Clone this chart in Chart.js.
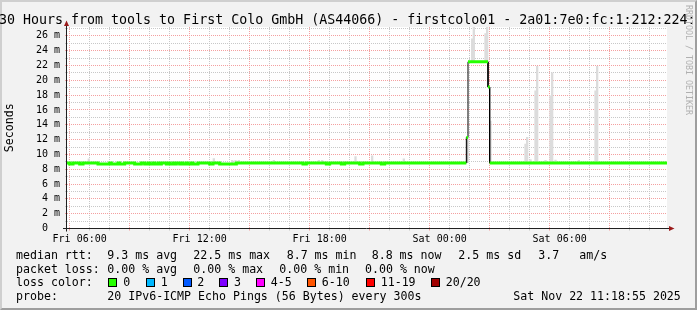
<!DOCTYPE html>
<html>
<head>
<meta charset="utf-8">
<title>firstcolo01 smokeping</title>
<script src="https://cdn.jsdelivr.net/npm/chart.js@4.4.1/dist/chart.umd.min.js"></script>
<style>
  html, body { margin: 0; padding: 0; background: #f2f2f2; }
  #graph { position: relative; width: 697px; height: 310px; overflow: hidden; background: #f2f2f2;
           font-family: "DejaVu Sans Mono", monospace; color: #000; }
  #frame { position: absolute; left: 0; top: 0; width: 697px; height: 310px; box-sizing: border-box;
           border: 2px solid; border-color: #cfcfcf #9e9e9e #9e9e9e #cfcfcf; }
  #chart { position: absolute; left: 0; top: 0; }
  #title { position: absolute; left: -1px; top: 11.7px; font-size: 13.3px; white-space: pre; }
  #credit { position: absolute; left: 684px; top: 5px; font-size: 8.3px; line-height: 9px;
            writing-mode: vertical-rl; color: #b0b0b0; white-space: pre; }
  .txt { position: absolute; white-space: pre; font-size: 11.6px; line-height: normal; }
  .r1 { top: 247.7px; } .r2 { top: 261.5px; } .r3 { top: 275.2px; } .r4 { top: 288.9px; }
  .box { position: absolute; top: 278px; width: 7px; height: 7px; border: 1px solid #000; }
</style>
</head>
<body>
<div id="graph">
  <div id="frame"></div>
  <canvas id="chart" width="697" height="310"></canvas>
  <div id="title">30 Hours from tools to First Colo GmbH (AS44066) - firstcolo01 - 2a01:7e0:fc:1:212:224::1</div>
  <div id="credit">RRDTOOL / TOBI OETIKER</div>

  <span class="txt r1" style="left:16px">median rtt:</span>
  <span class="txt r1" style="left:107.3px">9.3 ms avg</span>
  <span class="txt r1" style="left:193.3px">22.5 ms max</span>
  <span class="txt r1" style="left:286.7px">8.7 ms min</span>
  <span class="txt r1" style="left:371.7px">8.8 ms now</span>
  <span class="txt r1" style="left:458.3px">2.5 ms sd</span>
  <span class="txt r1" style="left:538.3px">3.7</span>
  <span class="txt r1" style="left:579.3px">am/s</span>

  <span class="txt r2" style="left:16px">packet loss:</span>
  <span class="txt r2" style="left:107.3px">0.00 % avg</span>
  <span class="txt r2" style="left:193.3px">0.00 % max</span>
  <span class="txt r2" style="left:279.3px">0.00 % min</span>
  <span class="txt r2" style="left:365px">0.00 % now</span>

  <span class="txt r3" style="left:16px">loss color:</span>
  <span class="box" style="left:108px;background:#26ff00"></span><span class="txt r3" style="left:123.3px">0</span>
  <span class="box" style="left:146px;background:#00b8ff"></span><span class="txt r3" style="left:160.7px">1</span>
  <span class="box" style="left:183px;background:#0059ff"></span><span class="txt r3" style="left:197.3px">2</span>
  <span class="box" style="left:219px;background:#7e00ff"></span><span class="txt r3" style="left:234px">3</span>
  <span class="box" style="left:256px;background:#ff00ff"></span><span class="txt r3" style="left:270.7px">4-5</span>
  <span class="box" style="left:307px;background:#ff5500"></span><span class="txt r3" style="left:321.7px">6-10</span>
  <span class="box" style="left:366px;background:#ff0000"></span><span class="txt r3" style="left:380.7px">11-19</span>
  <span class="box" style="left:431px;background:#a10000"></span><span class="txt r3" style="left:445.7px">20/20</span>

  <span class="txt r4" style="left:16px">probe:</span>
  <span class="txt r4" style="left:107.3px">20 IPv6-ICMP Echo Pings (56 Bytes) every 300s</span>
  <span class="txt r4" style="left:513.3px">Sat Nov 22 11:18:55 2025</span>
</div>

<script>
// time axis is in minutes since Fri 00:00
const graphStart = 322;
const graphEnd = 2122;

// median rtt (ms): each value holds from its time until the next one
const medianTimes = [322, 330, 340, 360, 370, 415, 450, 455, 475, 480, 495, 525, 545, 555, 565,
    570, 580, 585, 595, 600, 605, 620, 625, 630, 640, 645, 650, 660, 665, 670, 680, 685, 695,
    700, 715, 750, 760, 780, 830, 1030, 1040, 1100, 1110, 1145, 1155, 1200, 1210, 1265, 1275,
    1520, 1525, 1585, 1590];
const medianValues = [8.85, 8.72, 8.85, 8.72, 8.85, 8.72, 8.85, 8.72, 8.85, 8.72, 8.85, 8.72, 8.85, 8.72, 8.85,
    8.72, 8.85, 8.72, 8.85, 8.72, 8.85, 8.72, 8.85, 8.72, 8.85, 8.72, 8.85, 8.72, 8.85, 8.72, 8.85, 8.72, 8.85,
    8.72, 8.85, 8.72, 8.85, 8.72, 8.85, 8.72, 8.85, 8.72, 8.85, 8.72, 8.85, 8.72, 8.85, 8.72, 8.85,
    12.3, 22.5, 19.1, 8.85];

// smoke (ping spread) per 5 minute step, light shade
const smokeTimes = [385, 760, 815, 825, 835, 940, 1075, 1085, 1185, 1235, 1330,
    1535, 1540, 1575, 1580, 1590, 1695, 1700, 1710, 1725, 1730, 1755, 1770, 1775, 1785, 1855, 1905, 1910];
const smokeLow = [8.9, 8.9, 8.9, 8.9, 8.9, 8.9, 8.9, 8.9, 8.9, 8.9, 8.9,
    22.6, 22.6, 22.6, 22.6, 8.9, 8.9, 8.9, 8.9, 8.9, 8.9, 8.9, 8.9, 8.9, 8.9, 8.9, 8.9, 8.9];
const smokeHigh = [9.4, 9.45, 9.2, 9.2, 9.2, 9.2, 9.2, 9.2, 9.7, 9.8, 9.4,
    25.6, 27.5, 26.3, 27.5, 14.5, 11.4, 12.3, 9.3, 18.6, 21.9, 9.2, 17.9, 21.0, 9.25, 9.2, 18.6, 21.9];

// dense smoke (darker shade)
const denseTimes = [1520];
const denseLow = [8.9];
const denseHigh = [12.3];

const tickMinutes = [360, 720, 1080, 1440, 1800];
const tickLabels = ["Fri 06:00", "Fri 12:00", "Fri 18:00", "Sat 00:00", "Sat 06:00"];

const yMax = 27.2;
const stepMinutes = 5;
const green = '#26ff00';
const majorGrid = '#f4a0a0';
const minorGrid = '#c8c8c8';

function stepPoints(times, values, end) {
    let pts = [];
    for (let i = 0; i < times.length; i++) {
        let next = (i + 1 < times.length) ? times[i + 1] : end;
        pts.push({x: times[i], y: values[i]});
        pts.push({x: next, y: values[i]});
    }
    return pts;
}

function smokeBars(times, lo, hi) {
    return times.map(function(t, i) {
        return {x: t + stepMinutes / 2, y: [lo[i], hi[i]]};
    });
}

let hourTicks = [];
for (let m = 360; m < graphEnd; m += 60) hourTicks.push(m);
let valueTicks = [];
for (let v = 0; v <= Math.floor(yMax); v++) valueTicks.push(v);

const medianPoints = stepPoints(medianTimes, medianValues, graphEnd);
const barWidth = 600 / (graphEnd - graphStart) * stepMinutes;

const plotDecor = {
    id: 'plotDecor',
    beforeDraw(chart) {
        const {ctx, chartArea: a} = chart;
        ctx.save();
        ctx.fillStyle = '#ffffff';
        ctx.fillRect(a.left, a.top, a.right - a.left, a.bottom - a.top);
        ctx.restore();
    },
    afterDraw(chart) {
        const {ctx, chartArea: a} = chart;
        const x0 = Math.round(a.left) - 0.5;
        const y0 = Math.round(a.bottom) - 0.5;
        ctx.save();
        ctx.strokeStyle = '#202020';
        ctx.lineWidth = 1;
        ctx.beginPath();
        ctx.moveTo(x0, a.bottom + 3);
        ctx.lineTo(x0, 25);
        ctx.moveTo(a.left - 4, y0);
        ctx.lineTo(670, y0);
        ctx.stroke();
        ctx.fillStyle = '#9a1a1a';
        ctx.beginPath();
        ctx.moveTo(x0, 20.5);
        ctx.lineTo(x0 - 2.5, 26);
        ctx.lineTo(x0 + 2.5, 26);
        ctx.closePath();
        ctx.fill();
        ctx.beginPath();
        ctx.moveTo(674.5, y0);
        ctx.lineTo(669, y0 - 2.5);
        ctx.lineTo(669, y0 + 2.5);
        ctx.closePath();
        ctx.fill();
        ctx.restore();
    }
};

const axisFont = {family: 'DejaVu Sans Mono', size: 10};

new Chart(document.getElementById('chart'), {
    type: 'line',
    data: {
        datasets: [
            {
                label: 'median',
                data: medianPoints,
                borderColor: green,
                borderWidth: 3,
                pointRadius: 0,
                tension: 0,
                borderCapStyle: 'butt',
                order: 0,
                segment: {
                    borderColor: function(c) {
                        return (c.p0.x === c.p1.x && Math.abs(c.p0.y - c.p1.y) > 3) ? 'rgba(0,0,0,0)' : green;
                    }
                }
            },
            {
                label: 'median outline',
                data: medianPoints,
                borderColor: '#000000',
                borderWidth: 1,
                pointRadius: 0,
                tension: 0,
                order: 1
            },
            {
                type: 'bar',
                label: 'dense smoke',
                data: smokeBars(denseTimes, denseLow, denseHigh),
                backgroundColor: '#a6a6a6',
                barThickness: barWidth,
                grouped: false,
                borderWidth: 0,
                order: 2
            },
            {
                type: 'bar',
                label: 'smoke',
                data: smokeBars(smokeTimes, smokeLow, smokeHigh),
                backgroundColor: '#dcdcdc',
                barThickness: barWidth,
                grouped: false,
                borderWidth: 0,
                order: 3
            }
        ]
    },
    options: {
        responsive: false,
        animation: false,
        devicePixelRatio: 1,
        layout: {padding: {left: 0, top: 27, right: 30, bottom: 0}},
        plugins: {legend: {display: false}, tooltip: {enabled: false}, title: {display: false}},
        scales: {
            x: {
                type: 'linear',
                min: graphStart,
                max: graphEnd,
                offset: false,
                z: 1,
                afterFit: function(s) { s.height = 81.5; },
                afterBuildTicks: function(s) { s.ticks = hourTicks.map(function(v) { return {value: v}; }); },
                grid: {
                    color: function(c) { return (c.tick && c.tick.value % 180 === 0) ? majorGrid : minorGrid; },
                    lineWidth: 1,
                    tickLength: 2,
                    tickBorderDash: []
                },
                border: {display: false, dash: [1, 1]},
                ticks: {
                    autoSkip: false,
                    maxRotation: 0,
                    minRotation: 0,
                    padding: 3,
                    color: '#000',
                    font: axisFont,
                    callback: function(v) {
                        let i = tickMinutes.indexOf(v);
                        return i >= 0 ? tickLabels[i] : '';
                    }
                }
            },
            y: {
                type: 'linear',
                min: 0,
                max: yMax,
                z: 1,
                afterFit: function(s) { s.width = 67; },
                afterBuildTicks: function(s) { s.ticks = valueTicks.map(function(v) { return {value: v}; }); },
                grid: {
                    color: function(c) { return (c.tick && c.tick.value % 2 === 0) ? majorGrid : minorGrid; },
                    lineWidth: 1,
                    tickLength: 2,
                    tickBorderDash: []
                },
                border: {display: false, dash: [1, 1]},
                title: {
                    display: true,
                    text: 'Seconds',
                    color: '#000',
                    font: {family: 'DejaVu Sans Mono', size: 11.6},
                    padding: {top: 3, bottom: 0}
                },
                ticks: {
                    autoSkip: false,
                    padding: 5,
                    color: '#000',
                    font: axisFont,
                    callback: function(v) {
                        if (v % 2 !== 0) return '';
                        return v === 0 ? '0  ' : v + ' m';
                    }
                }
            }
        }
    },
    plugins: [plotDecor]
});
</script>
</body>
</html>
